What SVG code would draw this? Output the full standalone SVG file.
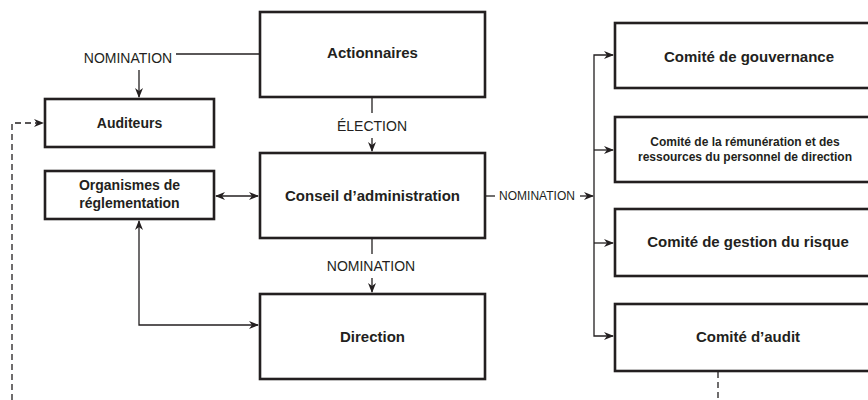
<svg xmlns="http://www.w3.org/2000/svg" width="868" height="400" viewBox="0 0 868 400">
<defs>
<marker id="ah" viewBox="0 0 10 10" refX="9" refY="5" markerWidth="10" markerHeight="10" markerUnits="userSpaceOnUse" orient="auto-start-reverse">
<path d="M0,1 L10,5 L0,9 L3,5 Z" fill="#231f20"/>
</marker>
<style>
.box{fill:#fff;stroke:#231f20;stroke-width:2.6}
.t{font-family:"Liberation Sans",Arial,sans-serif;font-weight:bold;fill:#231f20;text-anchor:middle}
.l{font-family:"Liberation Sans",Arial,sans-serif;fill:#231f20;text-anchor:middle;font-size:14px}
.c{fill:none;stroke:#231f20;stroke-width:1.3}
.d{fill:none;stroke:#231f20;stroke-width:1.3;stroke-dasharray:6 4}
</style>
</defs>
<rect width="868" height="400" fill="#fff"/>
<g id="connectors">
<path class="c" d="M260,54 H176"/>
<path class="c" d="M139,70 V97" marker-end="url(#ah)"/>
<path class="c" d="M372,97 V113"/>
<path class="c" d="M372,138 V151" marker-end="url(#ah)"/>
<path class="c" d="M372,238 V254"/>
<path class="c" d="M372,278 V292" marker-end="url(#ah)"/>
<path class="c" d="M216,196 H258" marker-start="url(#ah)" marker-end="url(#ah)"/>
<path class="c" d="M139,221 V325 H258" marker-start="url(#ah)" marker-end="url(#ah)"/>
<path class="c" d="M486,196 H495"/>
<path class="c" d="M580,196 H593" marker-end="url(#ah)"/>
<path class="c" d="M613,55 H594 V336 H613" marker-start="url(#ah)" marker-end="url(#ah)"/>
<path class="c" d="M594,150 H613" marker-end="url(#ah)"/>
<path class="c" d="M594,243 H613" marker-end="url(#ah)"/>
<path class="d" d="M12,400 V123 H43" marker-end="url(#ah)"/>
<path class="d" d="M718,372 V400"/>
<text class="l" x="128" y="62.5">NOMINATION</text>
<text class="l" x="372" y="130.5">ÉLECTION</text>
<text class="l" x="371" y="270.5">NOMINATION</text>
<text class="l" x="537" y="200" style="font-size:12px">NOMINATION</text>
</g>
<g id="actionnaires">
<rect class="box" x="260" y="12" width="225" height="85"/>
<text class="t" x="372.5" y="58" font-size="15">Actionnaires</text>
</g>
<g id="conseil">
<rect class="box" x="260" y="153" width="225" height="85"/>
<text class="t" x="372.5" y="201" font-size="15">Conseil d’administration</text>
</g>
<g id="direction">
<rect class="box" x="260" y="294" width="225" height="85"/>
<text class="t" x="372.5" y="341.5" font-size="15">Direction</text>
</g>
<g id="auditeurs">
<rect class="box" x="45" y="99" width="169" height="48"/>
<text class="t" x="129.5" y="128" font-size="14">Auditeurs</text>
</g>
<g id="organismes">
<rect class="box" x="45" y="171" width="169" height="48"/>
<text class="t" x="129.5" y="190" font-size="14">Organismes de</text>
<text class="t" x="129.5" y="207.5" font-size="14">réglementation</text>
</g>
<g id="gouvernance">
<rect class="box" x="615" y="23" width="265" height="65"/>
<text class="t" x="749" y="61.5" font-size="15">Comité de gouvernance</text>
</g>
<g id="remuneration">
<rect class="box" x="615" y="117" width="265" height="65"/>
<text class="t" x="745" y="146" font-size="12">Comité de la rémunération et des</text>
<text class="t" x="745" y="160.5" font-size="12">ressources du personnel de direction</text>
</g>
<g id="risque">
<rect class="box" x="615" y="209" width="265" height="67"/>
<text class="t" x="748" y="246.5" font-size="15">Comité de gestion du risque</text>
</g>
<g id="audit">
<rect class="box" x="615" y="304" width="265" height="67"/>
<text class="t" x="748" y="342" font-size="15">Comité d’audit</text>
</g>
</svg>
